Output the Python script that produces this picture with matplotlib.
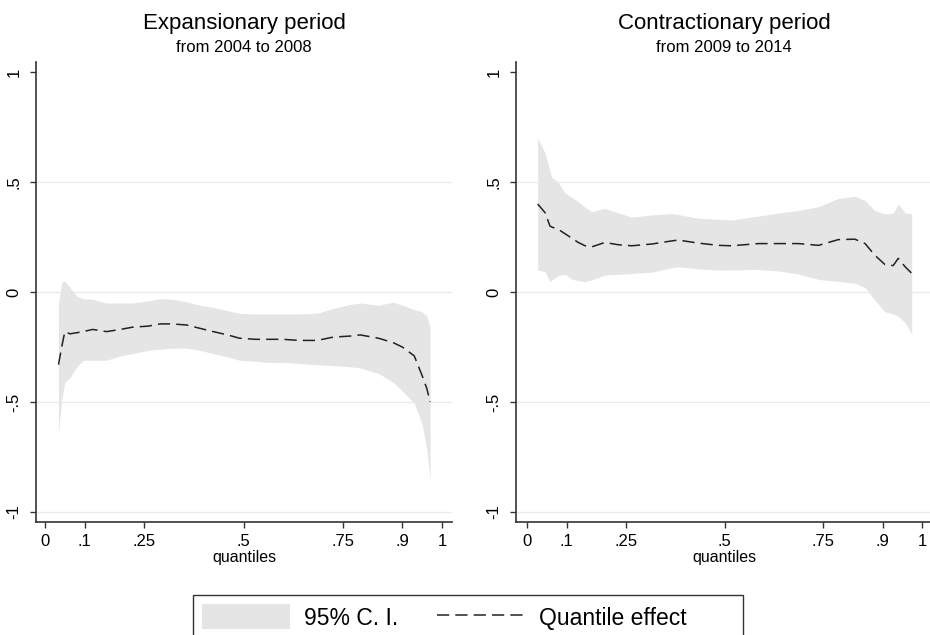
import matplotlib
matplotlib.use("Agg")
import matplotlib.pyplot as plt
from matplotlib.patches import Rectangle

plt.rcParams['font.family'] = ['Liberation Sans', 'DejaVu Sans']

# Expansionary period (2004-2008)
q_exp = [0.034, 0.042, 0.05, 0.063, 0.08, 0.096, 0.12, 0.155, 0.19, 0.22, 0.26,
         0.29, 0.32, 0.357, 0.39, 0.424, 0.46, 0.49, 0.53, 0.56, 0.6, 0.64,
         0.685, 0.726, 0.77, 0.794, 0.84, 0.877, 0.9, 0.93, 0.95, 0.962, 0.97]
eff_exp = [-0.33, -0.25, -0.18, -0.19, -0.185, -0.18, -0.17, -0.18, -0.17, -0.16, -0.155,
           -0.145, -0.145, -0.15, -0.165, -0.18, -0.195, -0.21, -0.215, -0.215, -0.215, -0.22,
           -0.22, -0.205, -0.2, -0.195, -0.21, -0.23, -0.25, -0.29, -0.38, -0.44, -0.5]
hi_exp = [-0.05, 0.045, 0.05, 0.02, -0.02, -0.03, -0.033, -0.05, -0.05, -0.05, -0.04,
          -0.03, -0.033, -0.045, -0.06, -0.07, -0.085, -0.097, -0.1, -0.1, -0.1, -0.1,
          -0.097, -0.075, -0.056, -0.05, -0.06, -0.046, -0.06, -0.08, -0.09, -0.11, -0.16]
lo_exp = [-0.64, -0.49, -0.41, -0.39, -0.34, -0.31, -0.31, -0.31, -0.29, -0.28, -0.265,
          -0.26, -0.255, -0.255, -0.265, -0.28, -0.295, -0.31, -0.315, -0.32, -0.32, -0.325,
          -0.33, -0.335, -0.34, -0.345, -0.37, -0.41, -0.45, -0.505, -0.6, -0.72, -0.85]

# Contractionary period (2009-2014)
q_con = [0.027, 0.046, 0.058, 0.063, 0.079, 0.096, 0.113, 0.13, 0.147, 0.164, 0.197,
         0.23, 0.265, 0.316, 0.366, 0.383, 0.434, 0.484, 0.518, 0.586, 0.64, 0.687,
         0.738, 0.788, 0.83, 0.856, 0.88, 0.906, 0.927, 0.94, 0.957, 0.974]
eff_con = [0.40, 0.36, 0.30, 0.295, 0.285, 0.265, 0.245, 0.225, 0.21, 0.205, 0.225,
           0.215, 0.21, 0.218, 0.232, 0.236, 0.222, 0.212, 0.21, 0.22, 0.22, 0.22,
           0.212, 0.238, 0.24, 0.22, 0.168, 0.125, 0.12, 0.153, 0.115, 0.085]
hi_con = [0.70, 0.63, 0.55, 0.52, 0.50, 0.45, 0.43, 0.41, 0.385, 0.365, 0.38,
          0.36, 0.34, 0.35, 0.357, 0.352, 0.335, 0.33, 0.327, 0.345, 0.36, 0.37,
          0.388, 0.425, 0.435, 0.415, 0.37, 0.355, 0.357, 0.40, 0.36, 0.355]
lo_con = [0.10, 0.092, 0.047, 0.055, 0.075, 0.08, 0.058, 0.052, 0.047, 0.055, 0.077,
          0.08, 0.084, 0.09, 0.11, 0.115, 0.105, 0.10, 0.10, 0.103, 0.095, 0.082,
          0.057, 0.048, 0.04, 0.02, -0.036, -0.09, -0.10, -0.11, -0.14, -0.19]

x_ticks = [0, 0.1, 0.25, 0.5, 0.75, 0.9, 1]
x_labels = ['0', '.1', '.25', '.5', '.75', '.9', '1']
y_ticks = [-1, -0.5, 0, 0.5, 1]
y_labels = ['-1', '-.5', '0', '.5', '1']

panels = [
    ('Expansionary period', 'from 2004 to 2008', q_exp, eff_exp, lo_exp, hi_exp),
    ('Contractionary period', 'from 2009 to 2014', q_con, eff_con, lo_con, hi_con),
]

W, H = 930, 635
fig = plt.figure(figsize=(W / 100, H / 100), dpi=100)

# pixel boxes: (left, right, top, bottom, x of 0, px per unit)
boxes = [(36, 452, 62, 522, 45, 397), (516, 932, 62, 522, 527, 395)]

band_color = '#e5e5e5'
line_color = '#222222'
spine_color = '#333333'

for (title, sub, q, eff, lo, hi), (l, r, t, b, x0, ppu) in zip(panels, boxes):
    ax = fig.add_axes([l / W, (H - b) / H, (r - l) / W, (b - t) / H])
    ax.set_xlim((l - x0) / ppu, (r - x0) / ppu)
    ax.set_ylim(-1.045, 1.045)
    for y in [-1, -0.5, 0, 0.5]:
        ax.axhline(y, color='#ebebeb', lw=1.0, zorder=0)
    ci = ax.fill_between(q, lo, hi, color=band_color, lw=0, zorder=1)
    ln, = ax.plot(q, eff, color=line_color, lw=1.1, dashes=(8, 4), zorder=2)

    for side in ['top', 'right']:
        ax.spines[side].set_visible(False)
    for side in ['left', 'bottom']:
        ax.spines[side].set_color(spine_color)
        ax.spines[side].set_linewidth(1.2)

    ax.set_xticks(x_ticks)
    ax.set_xticklabels(x_labels, fontsize=12)
    ax.set_yticks(y_ticks)
    ax.set_yticklabels(y_labels, fontsize=12, rotation=90, va='center')
    ax.tick_params(direction='out', length=4.5, width=1.0, color=spine_color)
    ax.tick_params(axis='x', pad=4)
    ax.tick_params(axis='y', pad=6)
    ax.set_xlabel('quantiles', fontsize=11.5, labelpad=1)

    cx = ((l + r) / 2) / W
    fig.text(cx, 1 - 23 / H, title, ha='center', va='center', fontsize=16)
    fig.text(cx, 1 - 48 / H, sub, ha='center', va='center', fontsize=12)

# legend frame runs off the bottom edge, as in the original
fig.patches.append(Rectangle((193 / W, -0.05), (743 - 193) / W, 0.05 + (H - 595) / H,
                             transform=fig.transFigure, fill=False,
                             edgecolor=spine_color, lw=1.0))
leg = fig.legend([ci, ln], ['95% C. I.', 'Quantile effect'], ncol=2,
                 loc='center left', bbox_to_anchor=(202 / W, 1 - 617 / H),
                 fontsize=16.5, frameon=False, borderpad=0,
                 handlelength=3.85, handleheight=1.3, handletextpad=0.6,
                 columnspacing=1.7, borderaxespad=0)

fig.savefig('out.png', dpi=100)
